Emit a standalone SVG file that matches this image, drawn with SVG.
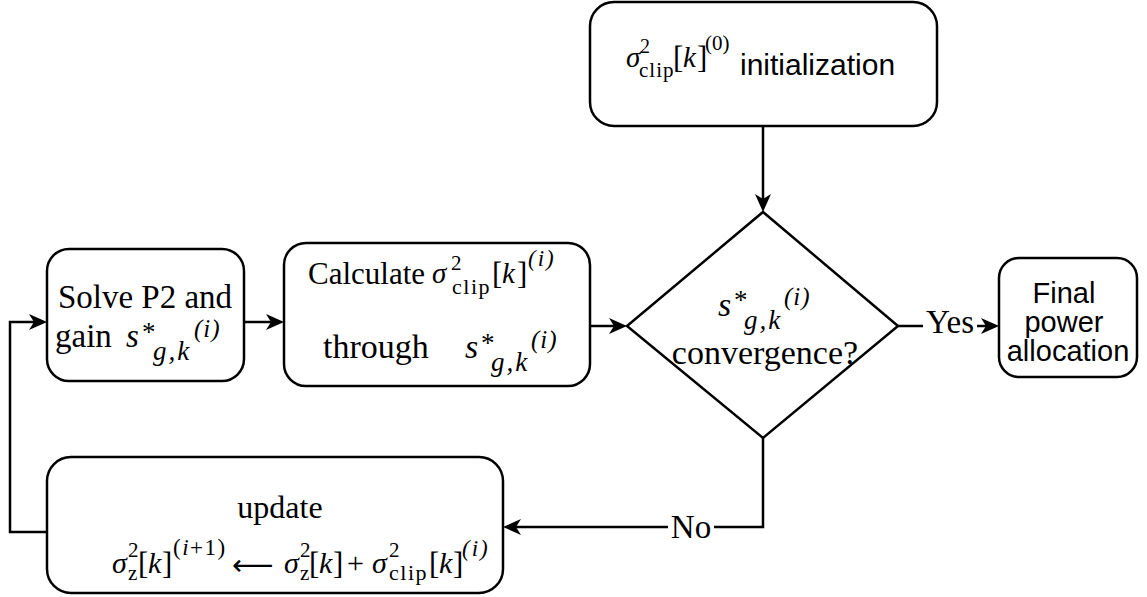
<svg xmlns="http://www.w3.org/2000/svg" width="1147" height="597" viewBox="0 0 1147 597">
<style>
.box{fill:#fff;stroke:#000;stroke-width:2.5}
.ln{fill:none;stroke:#000;stroke-width:2.5}
.t{font-family:"Liberation Serif","Times New Roman",serif;fill:#000}
.s{font-family:"Liberation Sans",Arial,sans-serif;fill:#000}
.i{font-style:italic}
.br{font-size:31px}
.lbl{fill:#fff;stroke:none}
</style>
<defs>
<marker id="ah" markerUnits="userSpaceOnUse" markerWidth="22" markerHeight="18" refX="8" refY="8" orient="auto" overflow="visible">
<path d="M0,0 L18,8 L0,16 L5,8 Z" fill="#000"/>
</marker>
</defs>
<rect width="1147" height="597" fill="#fff"/>
<g id="connectors">
<path class="ln" d="M763,126 V202" marker-end="url(#ah)"/>
<path class="ln" d="M244,322 H274" marker-end="url(#ah)"/>
<path class="ln" d="M590,326 H617" marker-end="url(#ah)"/>
<path class="ln" d="M898,326 H989" marker-end="url(#ah)"/>
<path class="ln" d="M763,438 V527 H513" marker-end="url(#ah)"/>
<path class="ln" d="M47,532 H10 V322 H37" marker-end="url(#ah)"/>
<rect class="lbl" x="923" y="310" width="54" height="30"/>
<text class="t" x="950" y="333" font-size="33" text-anchor="middle">Yes</text>
<rect class="lbl" x="668" y="512" width="46" height="30"/>
<text class="t" x="691" y="538" font-size="33" text-anchor="middle">No</text>
</g>
<g id="init">
<rect class="box" x="590" y="2" width="347" height="124" rx="24"/>
<text class="t" font-size="29">
<tspan x="626" y="67" class="i">σ</tspan>
<tspan x="640" y="53" font-size="20">2</tspan>
<tspan x="639" y="77" font-size="21" letter-spacing="1">clip</tspan>
<tspan x="673" y="68" class="br">[</tspan>
<tspan x="683" y="67" class="i">k</tspan>
<tspan x="697" y="68" class="br">]</tspan>
<tspan x="705" y="50" font-size="21">(0)</tspan>
</text>
<text class="s" x="740" y="75" font-size="30">initialization</text>
</g>
<g id="solve">
<rect class="box" x="47" y="249" width="197" height="132" rx="22"/>
<text class="t" x="145" y="308" font-size="33" text-anchor="middle">Solve P2 and</text>
<text class="t" font-size="33">
<tspan x="55" y="347">gain</tspan>
<tspan x="126" y="347" class="i">s</tspan>
<tspan x="142" y="341" font-size="27">*</tspan>
<tspan x="153" y="360" font-size="27" class="i" letter-spacing="2">g,k</tspan>
<tspan x="194" y="337" font-size="25" class="i" letter-spacing="1">(i)</tspan>
</text>
</g>
<g id="calc">
<rect class="box" x="284" y="243" width="306" height="143" rx="22"/>
<text class="t" x="308" y="284" font-size="31">Calculate</text>
<text class="t" font-size="29">
<tspan x="432" y="283" class="i">σ</tspan>
<tspan x="451" y="270" font-size="21">2</tspan>
<tspan x="452" y="294" font-size="22" letter-spacing="1.5">clip</tspan>
<tspan x="492" y="284" class="br">[</tspan>
<tspan x="502" y="283" class="i">k</tspan>
<tspan x="517" y="284" class="br">]</tspan>
<tspan x="528" y="266" font-size="23" class="i" letter-spacing="2">(i)</tspan>
</text>
<text class="t" font-size="34">
<tspan x="323" y="358">through</tspan>
<tspan x="465" y="358" class="i">s</tspan>
<tspan x="481" y="352" font-size="27">*</tspan>
<tspan x="491" y="371" font-size="27" class="i" letter-spacing="2">g,k</tspan>
<tspan x="531" y="348" font-size="25" class="i" letter-spacing="1">(i)</tspan>
</text>
</g>
<g id="decision">
<path class="box" d="M763,212 L898,326 L763,438 L627,326 Z"/>
<text class="t" font-size="34">
<tspan x="718" y="316" class="i">s</tspan>
<tspan x="734" y="309" font-size="27">*</tspan>
<tspan x="744" y="329" font-size="27" class="i" letter-spacing="2">g,k</tspan>
<tspan x="784" y="305" font-size="25" class="i" letter-spacing="1">(i)</tspan>
</text>
<text class="t" x="765" y="364" font-size="34" text-anchor="middle">convergence?</text>
</g>
<g id="final">
<rect class="box" x="999" y="258" width="138" height="119" rx="20"/>
<text class="s" font-size="29" text-anchor="middle">
<tspan x="1068" y="303">Final</tspan>
<tspan x="1068" y="332">power</tspan>
<tspan x="1068" y="361">allocation</tspan>
</text>
</g>
<g id="update">
<rect class="box" x="47" y="457" width="456" height="136" rx="24"/>
<text class="t" x="280" y="518" font-size="32" text-anchor="middle">update</text>
<text class="t" font-size="30">
<tspan x="112" y="573" class="i">σ</tspan>
<tspan x="128" y="557" font-size="21">2</tspan>
<tspan x="128" y="580" font-size="21">z</tspan>
<tspan x="138" y="574" class="br">[</tspan>
<tspan x="148" y="573" class="i">k</tspan>
<tspan x="162" y="574" class="br">]</tspan>
<tspan x="173" y="555" font-size="23" letter-spacing="1.5">(<tspan class="i">i</tspan>+1)</tspan>
<tspan x="284" y="573" class="i">σ</tspan>
<tspan x="300" y="557" font-size="21">2</tspan>
<tspan x="300" y="580" font-size="21">z</tspan>
<tspan x="309" y="574" class="br">[</tspan>
<tspan x="319" y="573" class="i">k</tspan>
<tspan x="333" y="574" class="br">]</tspan>
<tspan x="347" y="573">+</tspan>
<tspan x="372" y="573" class="i">σ</tspan>
<tspan x="389" y="557" font-size="21">2</tspan>
<tspan x="389" y="580" font-size="22" letter-spacing="1.5">clip</tspan>
<tspan x="429" y="574" class="br">[</tspan>
<tspan x="439" y="573" class="i">k</tspan>
<tspan x="453" y="574" class="br">]</tspan>
<tspan x="462" y="556" font-size="23" class="i" letter-spacing="2">(i)</tspan>
</text>
<text x="232" y="575" font-size="29" font-family="DejaVu Sans, sans-serif">⟵</text>
</g>
</svg>
